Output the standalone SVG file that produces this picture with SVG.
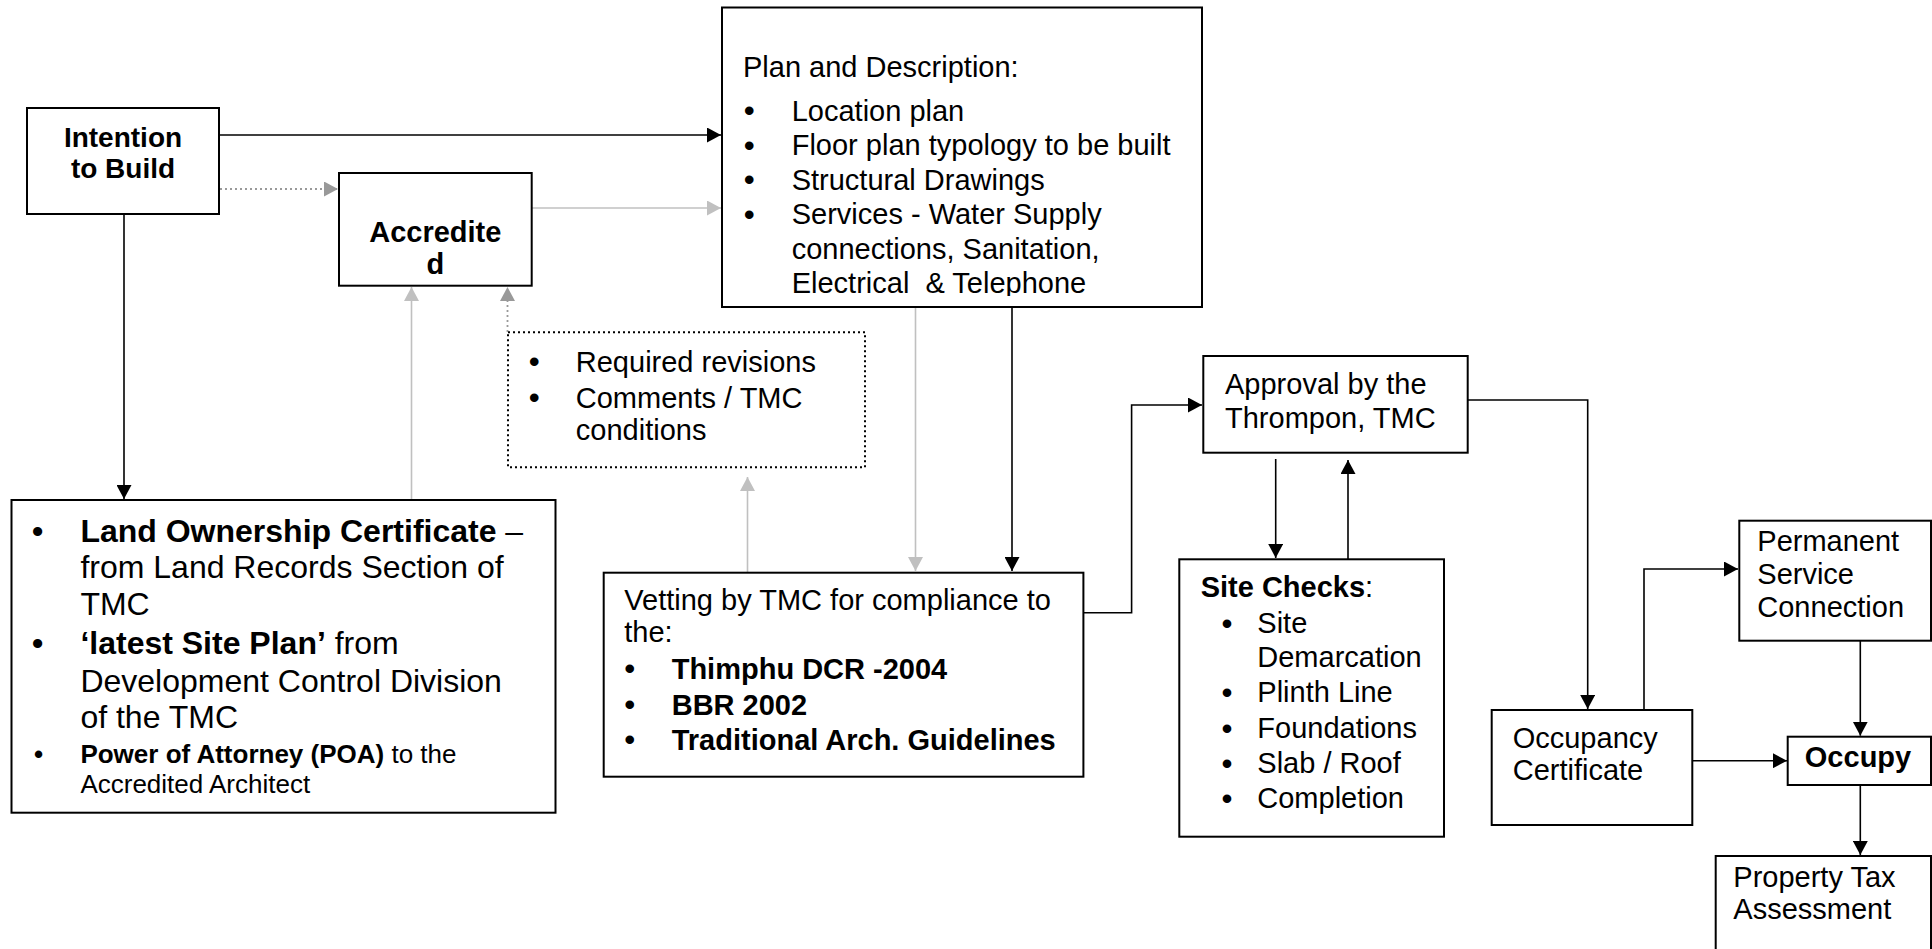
<svg xmlns="http://www.w3.org/2000/svg" width="1932" height="949" viewBox="0 0 1932 949">
<style>
text{font-family:"Liberation Sans",Arial,sans-serif;fill:#000}
.t{font-size:29px}
.b{font-weight:bold}
.bl{font-size:30px;font-weight:bold}
.box{fill:#fff;stroke:#000;stroke-width:2}
.dotbox{fill:#fff;stroke:#000;stroke-width:2;stroke-dasharray:2 3}
.c{fill:none;stroke:#000;stroke-width:1.6}
.lg{fill:none;stroke:#c0c0c0;stroke-width:1.6}
.mg{fill:none;stroke:#999;stroke-width:1.8;stroke-dasharray:2 3}
</style>
<defs>
<marker id="ab" markerUnits="userSpaceOnUse" markerWidth="15" markerHeight="15" refX="14" refY="7.5" orient="auto"><path d="M0,0 L14,7.5 L0,15 z" fill="#000"/></marker>
<marker id="al" markerUnits="userSpaceOnUse" markerWidth="15" markerHeight="15" refX="14" refY="7.5" orient="auto"><path d="M0,0 L14,7.5 L0,15 z" fill="#c0c0c0"/></marker>
<marker id="am" markerUnits="userSpaceOnUse" markerWidth="15" markerHeight="15" refX="14" refY="7.5" orient="auto"><path d="M0,0 L14,7.5 L0,15 z" fill="#999"/></marker>
<clipPath id="planclip"><rect x="722" y="8" width="480" height="288"/></clipPath>
</defs>

<g id="connectors">
<path class="c" d="M219,135 H721" marker-end="url(#ab)"/>
<path class="mg" d="M220,189 H338" marker-end="url(#am)"/>
<path class="lg" d="M532,208 H721" marker-end="url(#al)"/>
<path class="c" d="M124,214 V499" marker-end="url(#ab)"/>
<path class="lg" d="M411.5,500 V287" marker-end="url(#al)"/>
<path class="mg" d="M507.5,332 V287" marker-end="url(#am)"/>
<path class="lg" d="M747.5,572 V477" marker-end="url(#al)"/>
<path class="lg" d="M915.5,307 V571" marker-end="url(#al)"/>
<path class="c" d="M1012,307 V571" marker-end="url(#ab)"/>
<path class="c" d="M1083,612.7 H1131.6 V405 H1202" marker-end="url(#ab)"/>
<path class="c" d="M1275.7,459 V558" marker-end="url(#ab)"/>
<path class="c" d="M1348,559 V460" marker-end="url(#ab)"/>
<path class="c" d="M1467.7,400 H1587.7 V709" marker-end="url(#ab)"/>
<path class="c" d="M1644,710 V569 H1738" marker-end="url(#ab)"/>
<path class="c" d="M1692,760.7 H1787" marker-end="url(#ab)"/>
<path class="c" d="M1860.3,640.7 V735.7" marker-end="url(#ab)"/>
<path class="c" d="M1860.3,785 V855" marker-end="url(#ab)"/>
</g>

<g id="intention">
<rect class="box" x="27" y="108" width="192" height="106"/>
<text class="b" style="font-size:28px" x="123" y="146.7" text-anchor="middle">Intention</text>
<text class="b" style="font-size:28px" x="123" y="178.3" text-anchor="middle">to Build</text>
</g>

<g id="accredited">
<rect class="box" x="339" y="173" width="192.7" height="112.7"/>
<text class="b" style="font-size:29px" x="435.3" y="241.7" text-anchor="middle">Accredite</text>
<text class="b" style="font-size:29px" x="435.3" y="274" text-anchor="middle">d</text>
</g>

<g id="plan">
<rect class="box" x="722" y="7.5" width="480" height="299.5"/>
<g clip-path="url(#planclip)" class="t">
<text x="743" y="77.3">Plan and Description:</text>
<text class="bl" x="744" y="121">•</text><text x="791.7" y="120.7">Location plan</text>
<text class="bl" x="744" y="155.5">•</text><text x="791.7" y="155.2">Floor plan typology to be built</text>
<text class="bl" x="744" y="190">•</text><text x="791.7" y="189.7">Structural Drawings</text>
<text class="bl" x="744" y="224.5">•</text><text x="791.7" y="224.2">Services - Water Supply</text>
<text x="791.7" y="258.7">connections, Sanitation,</text>
<text x="791.7" y="293.2" xml:space="preserve">Electrical  &amp; Telephone</text>
</g>
</g>

<g id="land">
<rect class="box" x="11.5" y="500" width="544" height="312.7"/>
<g style="font-size:32px">
<text x="32" y="541.7" class="b">•</text>
<text x="80.4" y="541.7"><tspan class="b">Land Ownership Certificate</tspan> –</text>
<text x="80.4" y="578.3">from Land Records Section of</text>
<text x="80.4" y="615">TMC</text>
<text x="32" y="654.3" class="b">•</text>
<text x="80.4" y="654.3"><tspan class="b">‘latest Site Plan’</tspan> from</text>
<text x="80.4" y="691.7">Development Control Division</text>
<text x="80.4" y="728.3">of the TMC</text>
</g>
<g style="font-size:26px">
<text x="34" y="763.3" class="b">•</text>
<text x="80.4" y="763.3"><tspan class="b">Power of Attorney (POA)</tspan> to the</text>
<text x="80.4" y="793.3">Accredited Architect</text>
</g>
</g>

<g id="revisions">
<rect class="dotbox" x="508" y="332.3" width="357" height="135"/>
<g class="t">
<text class="bl" x="529" y="372">•</text><text x="575.8" y="371.7">Required revisions</text>
<text class="bl" x="529" y="408">•</text><text x="575.8" y="407.7">Comments / TMC</text>
<text x="575.8" y="440">conditions</text>
</g>
</g>

<g id="vetting">
<rect class="box" x="603.7" y="572.7" width="479.7" height="204"/>
<g class="t">
<text x="624.3" y="610">Vetting by TMC for compliance to</text>
<text x="624.3" y="642.3">the:</text>
<text class="bl" x="624.4" y="679.3">•</text><text class="b" x="671.7" y="679">Thimphu DCR -2004</text>
<text class="bl" x="624.4" y="715.3">•</text><text class="b" x="671.7" y="715">BBR 2002</text>
<text class="bl" x="624.4" y="750.3">•</text><text class="b" x="671.7" y="750">Traditional Arch. Guidelines</text>
</g>
</g>

<g id="approval">
<rect class="box" x="1203.3" y="356" width="264.4" height="96.7"/>
<g class="t">
<text x="1225" y="394.3">Approval by the</text>
<text x="1225" y="428.3">Thrompon, TMC</text>
</g>
</g>

<g id="sitechecks">
<rect class="box" x="1179.3" y="559.3" width="264.7" height="277.4"/>
<g class="t">
<text x="1200.7" y="597.3"><tspan class="b">Site Checks</tspan>:</text>
<text class="bl" x="1221.7" y="633.6">•</text><text x="1257.3" y="633.3">Site</text>
<text x="1257.3" y="666.7">Demarcation</text>
<text class="bl" x="1221.7" y="702.6">•</text><text x="1257.3" y="702.3">Plinth Line</text>
<text class="bl" x="1221.7" y="738.6">•</text><text x="1257.3" y="738.3">Foundations</text>
<text class="bl" x="1221.7" y="773.6">•</text><text x="1257.3" y="773.3">Slab / Roof</text>
<text class="bl" x="1221.7" y="808.6">•</text><text x="1257.3" y="808.3">Completion</text>
</g>
</g>

<g id="occupancy">
<rect class="box" x="1491.7" y="710" width="200.6" height="115"/>
<g class="t">
<text x="1512.7" y="748.3">Occupancy</text>
<text x="1512.7" y="780">Certificate</text>
</g>
</g>

<g id="permanent">
<rect class="box" x="1739.3" y="520.7" width="191.7" height="120"/>
<g class="t">
<text x="1757.3" y="551">Permanent</text>
<text x="1757.3" y="584">Service</text>
<text x="1757.3" y="617.3">Connection</text>
</g>
</g>

<g id="occupy">
<rect class="box" x="1787.7" y="736.7" width="143.3" height="48.3"/>
<text class="t b" x="1858" y="766.7" text-anchor="middle">Occupy</text>
</g>

<g id="propertytax">
<rect class="box" x="1715.7" y="856" width="215.3" height="120"/>
<g class="t">
<text x="1733.3" y="886.7">Property Tax</text>
<text x="1733.3" y="919.3">Assessment</text>
</g>
</g>
</svg>
